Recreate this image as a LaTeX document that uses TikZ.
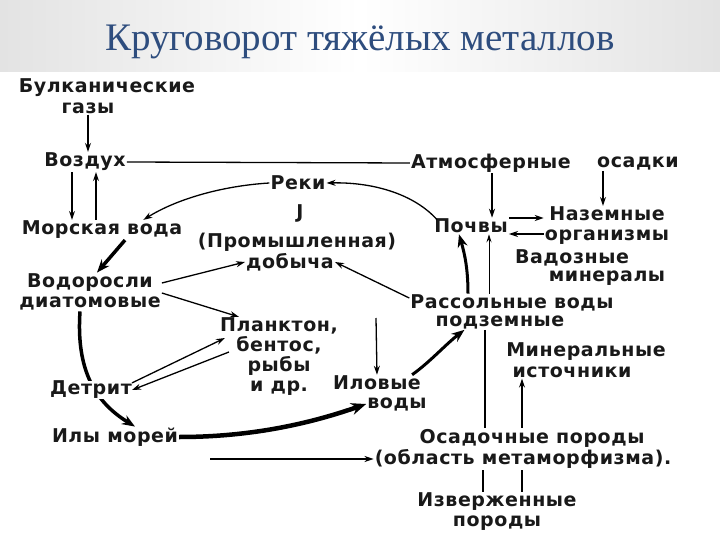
\documentclass[tikz,border=0pt]{standalone}
\usepackage{fontspec}
\setmainfont{Liberation Serif}
\newfontfamily\lblfont{DejaVu Sans}[LetterSpace=3]
\newfontfamily\titlefont{Liberation Serif}
\usetikzlibrary{arrows.meta}
\pgfdeclarelayer{back}
\pgfdeclarelayer{bg}
\pgfsetlayers{back,bg,main}
\definecolor{titleblue}{HTML}{2E4D7E}
\tikzset{
  lbl/.style={font=\lblfont\bfseries\fontsize{19}{20}\selectfont, inner sep=1pt, align=center, text=black!90},
  arr/.style={line width=1.3pt, -{Stealth[length=9pt,width=6pt]}},
  thinarr/.style={line width=0.9pt, -{Stealth[length=8pt,width=5pt]}},
  thickarr/.style={line width=3.5pt, -{Stealth[length=13pt,width=10pt]}},
  ln/.style={line width=1.3pt}
}
\begin{document}
\begin{tikzpicture}[x=1pt,y=-1pt]
\useasboundingbox (0,0) rectangle (720,540);
\begin{pgfonlayer}{back}
\fill[white] (0,0) rectangle (720,540);
\shade[left color=gray!22, right color=gray!22, middle color=white] (0,0) rectangle (720,72);
\end{pgfonlayer}
\node[font=\titlefont\fontsize{39}{42}\selectfont, text=titleblue] (title) at (360,42) {Круговорот тяжёлых металлов};

\node[lbl] (volc1) at (107,88) {Булканические};
\node[lbl] (volc2) at (88,108) {газы};
\node[lbl] (air) at (85,162) {Воздух};
\node[lbl] (atm1) at (491,163) {Атмосферные};
\node[lbl] (atm2) at (638,163) {осадки};
\node[lbl] (sea) at (102,230) {Морская вода};
\node[lbl] (rivers) at (298,183) {Реки};
\node[lbl] (J) at (300,213) {J};
\node[lbl] (prom) at (297,242) {(Промышленная)};
\node[lbl] (dob) at (290,262) {добыча};
\node[lbl] (soil) at (471,226) {Почвы};
\node[lbl] (naz) at (607,226) {Наземные\\организмы};
\node[lbl] (vad1) at (572,258) {Вадозные};
\node[lbl] (vad2) at (607,278) {минералы};
\node[lbl] (rass) at (512,303) {Рассольные воды};
\node[lbl] (podz) at (500,322) {подземные};
\node[lbl] (alg) at (90,292) {Водоросли\\диатомовые};
\node[lbl] (plank) at (279,357) {Планктон,\\бентос,\\рыбы\\и др.};
\node[lbl, fill=white, inner sep=0pt] (detr) at (91,390) {Детрит};
\node[lbl] (ily) at (115,437) {Илы морей};
\node[lbl] (ilv1) at (377,383) {Иловые};
\node[lbl] (ilv2) at (397,404) {воды};
\node[lbl] (osad) at (532,438) {Осадочные породы};
\node[lbl] (obl) at (523,459) {(область метаморфизма).};
\node[lbl] (min1) at (586,352) {Минеральные};
\node[lbl] (min2) at (572,372) {источники};
\node[lbl] (izv) at (497,512) {Изверженные\\породы};
\coordinate (ilvsrc) at (376,318);

% connectors
\draw[arr] (volc2.south) -- (volc2.south |- air.north);
\draw[ln] (air.east) -- (atm1.west);
\draw[arr] (72,0 |- air.south) -- (72,0 |- sea.north);
\draw[arr] (96,0 |- sea.north) -- (96,0 |- air.south);
\draw[arr] (rivers.west) .. controls (220,186) and (175,200) .. ([xshift=-40pt]sea.north east);
\draw[arr] ([xshift=4pt,yshift=-2pt]soil.north west) .. controls (415,195) and (375,182) .. (rivers.east);
\draw[arr] (492,0 |- atm1.south) -- (492,0 |- soil.north);
\draw[arr] (603,0 |- atm2.south) -- (603,0 |- naz.north);
\draw[arr] ([yshift=8pt]soil.east) -- ([yshift=8pt]naz.west);
\draw[arr] ([yshift=-8pt]naz.west) -- ([yshift=-8pt]soil.east);
\draw[thinarr] (489,0 |- rass.north) -- (489,0 |- soil.south);
\draw[thickarr, line width=3pt] (468,0 |- rass.north) .. controls (468,270) and (465,255) .. (459,0 |- soil.south);
\draw[arr] ([yshift=5pt]rass.west) -- (dob.east);
\draw[thickarr] (125,0 |- sea.south) -- (97,0 |- alg.north);
\draw[arr] ([yshift=9pt]alg.east) -- (dob.west);
\draw[arr] ([yshift=-1pt]alg.east) -- ([xshift=20pt]plank.north west);
\draw[arr] ([yshift=-2pt]detr.north east) -- ([xshift=6pt,yshift=19pt]plank.west);
\draw[arr] ([xshift=10pt,yshift=5pt]plank.west) -- (detr.east);
\begin{pgfonlayer}{bg}
\draw[thickarr] (80,0 |- alg.south) .. controls (76,370) and (95,402) .. (135,0 |- ily.north);
\end{pgfonlayer}
\draw[thickarr, line width=4.5pt, -{Stealth[length=15pt,width=12pt]}] (ily.east) .. controls (260,437) and (320,420) .. (ilv2.west);
\draw[arr] (210,0 |- obl.west) -- (obl.west);
\draw[arr] (ilvsrc) -- (ilv1.north);
\draw[thickarr, line width=3pt] ([xshift=-10pt]ilv1.north east) .. controls (430,362) and (445,345) .. ([xshift=30pt]podz.south west);
\draw[ln] (485,0 |- podz.south) -- (485,0 |- osad.north);
\draw[ln] (483,0 |- izv.north) -- (483,0 |- obl.south);
\draw[ln] (522,0 |- izv.north) -- (522,0 |- obl.south);
\draw[arr] (522,0 |- osad.north) -- (522,0 |- min2.south);
\end{tikzpicture}
\end{document}
